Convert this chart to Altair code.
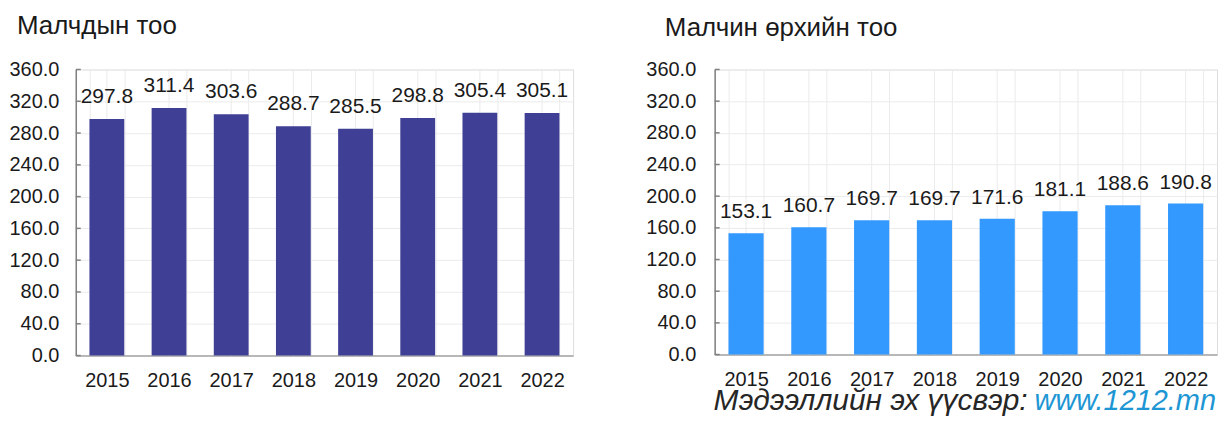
import altair as alt
import pandas as pd

# ---- data ----
years = ["2015", "2016", "2017", "2018", "2019", "2020", "2021", "2022"]
herders = [297.8, 311.4, 303.6, 288.7, 285.5, 298.8, 305.4, 305.1]
households = [153.1, 160.7, 169.7, 169.7, 171.6, 181.1, 188.6, 190.8]
y_ticks = [0, 40, 80, 120, 160, 200, 240, 280, 320, 360]

title_left = "Малчдын тоо"
title_right = "Малчин өрхийн тоо"
source_prefix = "Мэдээллийн эх үүсвэр:"
source_url = "www.1212.mn"

FONT = "Liberation Sans"
GRID = "#ebebeb"
TEXT = "#1a1a1a"


def panel(values, color, w, h, title, title_dx, title_dy, label_dy, ylab_pad):
    df = pd.DataFrame({"year": years, "value": values})
    ticks_df = pd.DataFrame({"value": y_ticks})

    x = alt.X(
        "year:N",
        sort=years,
        scale=alt.Scale(paddingInner=0.44, paddingOuter=0.22),
        axis=alt.Axis(
            title=None, labelAngle=0, grid=True, gridColor=GRID, gridWidth=1,
            tickBand="extent", ticks=False, tickSize=0,
            domainColor="#a6a6a6", domainWidth=1.5,
            labelFontSize=20, labelFont=FONT, labelColor=TEXT, labelPadding=15,
        ),
    )
    y = alt.Y(
        "value:Q",
        scale=alt.Scale(domain=[0, 360], nice=False, zero=True),
        axis=alt.Axis(
            title=None, values=y_ticks, format=".1f", grid=True, gridColor=GRID,
            gridWidth=1, ticks=False, tickSize=0,
            domainColor="#808080", domainWidth=1.5,
            labelFontSize=20, labelFont=FONT, labelColor=TEXT, labelPadding=ylab_pad,
        ),
    )

    base = alt.Chart(df)
    centers = base.mark_rule(color=GRID, strokeWidth=1).encode(
        x=x, y=alt.value(0), y2=alt.value(h)
    )
    bars = base.mark_bar(color=color).encode(x=x, y=y)
    labels = base.mark_text(
        dy=label_dy, baseline="alphabetic", fontSize=21, font=FONT, color=TEXT
    ).encode(x=x, y=y, text=alt.Text("value:Q", format=".1f"))
    tickmarks = alt.Chart(ticks_df).mark_rule(color="#808080", strokeWidth=1.5).encode(
        y=y, x=alt.value(0), x2=alt.value(5)
    )
    return alt.layer(centers, bars, tickmarks, labels).properties(
        width=w,
        height=h,
        title=alt.TitleParams(
            text=title, anchor="start", frame="group", dx=title_dx, dy=title_dy,
            offset=0, fontSize=26, font=FONT, fontWeight="normal",
            color=TEXT, baseline="alphabetic",
        ),
    )


RW = 504
left = panel(herders, "#3f3f96", 499, 287, title_left, -59, 0, -16, 17)
right_base = panel(households, "#3399ff", RW, 286, title_right, -50, 2, -15, 19)

foot_prefix = alt.Chart(pd.DataFrame({"t": [source_prefix]})).mark_text(
    align="right", baseline="alphabetic", fontSize=30, fontStyle="italic",
    font=FONT, color="#262626"
).encode(x=alt.value(RW - 190), y=alt.value(342), text="t:N")
foot_url = alt.Chart(pd.DataFrame({"t": [source_url]})).mark_text(
    align="right", baseline="alphabetic", fontSize=29, fontStyle="italic",
    font=FONT, color="#1e96d4"
).encode(x=alt.value(RW - 1), y=alt.value(342), text="t:N")

right = alt.layer(right_base, foot_prefix, foot_url)

chart = (
    alt.hconcat(left, right, spacing=71)
    .properties(padding={"left": 0, "top": 3, "right": 0, "bottom": 0})
    .configure_view(strokeWidth=0)
    .configure(font=FONT)
)

chart.save("out.html", embed_options={"renderer": "svg", "actions": False})
